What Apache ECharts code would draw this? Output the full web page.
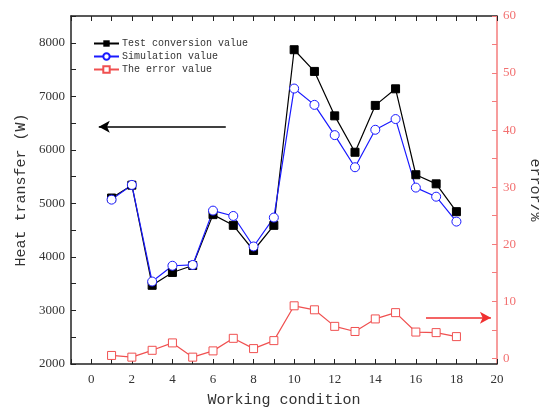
<!DOCTYPE html>
<html><head><meta charset="utf-8">
<script src="https://cdn.jsdelivr.net/npm/echarts@6/dist/echarts.min.js"></script>
<style>html,body{margin:0;padding:0;background:#fff}#c{width:539px;height:414px}</style>
</head><body><div id="c"></div>
<script>
const conditions = [1,2,3,4,5,6,7,8,9,10,11,12,13,14,15,16,17,18];
const testValues = [5100,5340,3470,3710,3840,4790,4590,4120,4590,7870,7465,6635,5955,6830,7140,5535,5365,4845];
const simValues  = [5070,5345,3540,3835,3850,4865,4765,4195,4735,7145,6840,6275,5675,6375,6575,5295,5125,4660];
const errorValues = [0.5,0.2,1.4,2.7,0.2,1.3,3.5,1.7,3.1,9.2,8.5,5.6,4.7,6.9,8.0,4.6,4.5,3.8];
const xLabels = [0,2,4,6,8,10,12,14,16,18,20];
const xTicks = [-1,0,1,2,3,4,5,6,7,8,9,10,11,12,13,14,15,16,17,18,19,20];
const rightLabels = [0,10,20,30,40,50,60];
const rightTicks = [0,5,10,15,20,25,30,35,40,45,50,55,60];
const leftArrow = [[6.63,6430],[0.37,6430]];
const rightArrow = [[16.5,7.1],[19.7,7.1]];

const pair = (xs, ys) => xs.map((x,i)=>[x, ys[i]]);
const serif = 'Liberation Serif';
const mono = 'Liberation Mono';
const chart = echarts.init(document.getElementById('c'), null, {renderer:'canvas'});
chart.setOption({
  animation:false,
  backgroundColor:'#fff',
  grid:{left:71,right:42,top:16,bottom:50,containLabel:false,outerBoundsMode:'none'},
  legend:{
    left:93, top:38, orient:'vertical', itemGap:2, itemWidth:25, itemHeight:8, padding:0,
    textStyle:{fontFamily:mono,fontSize:10,lineHeight:11,color:'#333',padding:[0,0,0,-2]},
    data:['Test conversion value','Simulation value','The error value']
  },
  xAxis:[{
    type:'value', min:-1, max:20, position:'bottom',
    name:'Working condition', nameLocation:'middle', nameGap:29,
    nameTextStyle:{fontFamily:mono,fontSize:15,color:'#333'},
    axisLine:{onZero:false,lineStyle:{color:'#222',width:1.5}},
    axisTick:{inside:true,length:5,customValues:xTicks,lineStyle:{color:'#222'}},
    axisLabel:{customValues:xLabels,fontFamily:serif,fontSize:13,color:'#333',margin:9},
    splitLine:{show:false}
  },{
    type:'value', min:-1, max:20, position:'top',
    axisLine:{onZero:false,lineStyle:{color:'#222',width:1.5}},
    axisTick:{inside:true,length:5,customValues:xTicks,lineStyle:{color:'#222'}},
    axisLabel:{show:false}, splitLine:{show:false}
  }],
  yAxis:[{
    type:'value', min:2000, max:8500, interval:500, position:'left',
    name:'Heat transfer (W)', nameLocation:'middle', nameGap:39,
    nameTextStyle:{fontFamily:mono,fontSize:15,color:'#333'},
    axisLine:{show:true,onZero:false,lineStyle:{color:'#222',width:1.5}},
    axisTick:{inside:true,length:5,lineStyle:{color:'#222'}},
    axisLabel:{fontFamily:serif,fontSize:13,color:'#333',margin:6,
      formatter:v=> (v%1000===0 ? String(v) : '')},
    splitLine:{show:false}
  },{
    type:'value', min:-1, max:60, position:'right',
    name:'error/%', nameLocation:'middle', nameGap:30, nameRotate:-90,
    nameTextStyle:{fontFamily:mono,fontSize:15,color:'#333'},
    axisLine:{show:true,onZero:false,lineStyle:{color:'#f47c7c',width:1.5}},
    axisTick:{inside:true,length:5,customValues:rightTicks,lineStyle:{color:'#f47c7c'}},
    axisLabel:{customValues:rightLabels,fontFamily:serif,fontSize:13,color:'#f27070',margin:6},
    splitLine:{show:false}
  }],
  series:[{
    name:'Test conversion value', type:'line', xAxisIndex:0, yAxisIndex:0,
    data:pair(conditions,testValues),
    symbol:'rect', symbolSize:8,
    lineStyle:{color:'#000',width:1.2}, itemStyle:{color:'#000',borderColor:'#000'},
    markLine:{silent:true, symbol:['none','arrow'], symbolSize:[9,11],
      label:{show:false}, lineStyle:{color:'#000',width:1.5,type:'solid'},
      data:[[{coord:leftArrow[0]},{coord:leftArrow[1]}]]}
  },{
    name:'Simulation value', type:'line', xAxisIndex:0, yAxisIndex:0,
    data:pair(conditions,simValues),
    symbol:'circle', symbolSize:9, showAllSymbol:true,
    lineStyle:{color:'#1a1aff',width:1.2},
    itemStyle:{color:'#fff',borderColor:'#1a1aff',borderWidth:1}
  },{
    name:'The error value', type:'line', xAxisIndex:0, yAxisIndex:1,
    data:pair(conditions,errorValues),
    symbol:'rect', symbolSize:8,
    lineStyle:{color:'#f05050',width:1.2},
    itemStyle:{color:'#fff',borderColor:'#f05050',borderWidth:1},
    markLine:{silent:true, symbol:['none','arrow'], symbolSize:[9,11],
      label:{show:false}, lineStyle:{color:'#f03030',width:1.5,type:'solid'},
      data:[[{coord:rightArrow[0]},{coord:rightArrow[1]}]]}
  }]
});
</script></body></html>
